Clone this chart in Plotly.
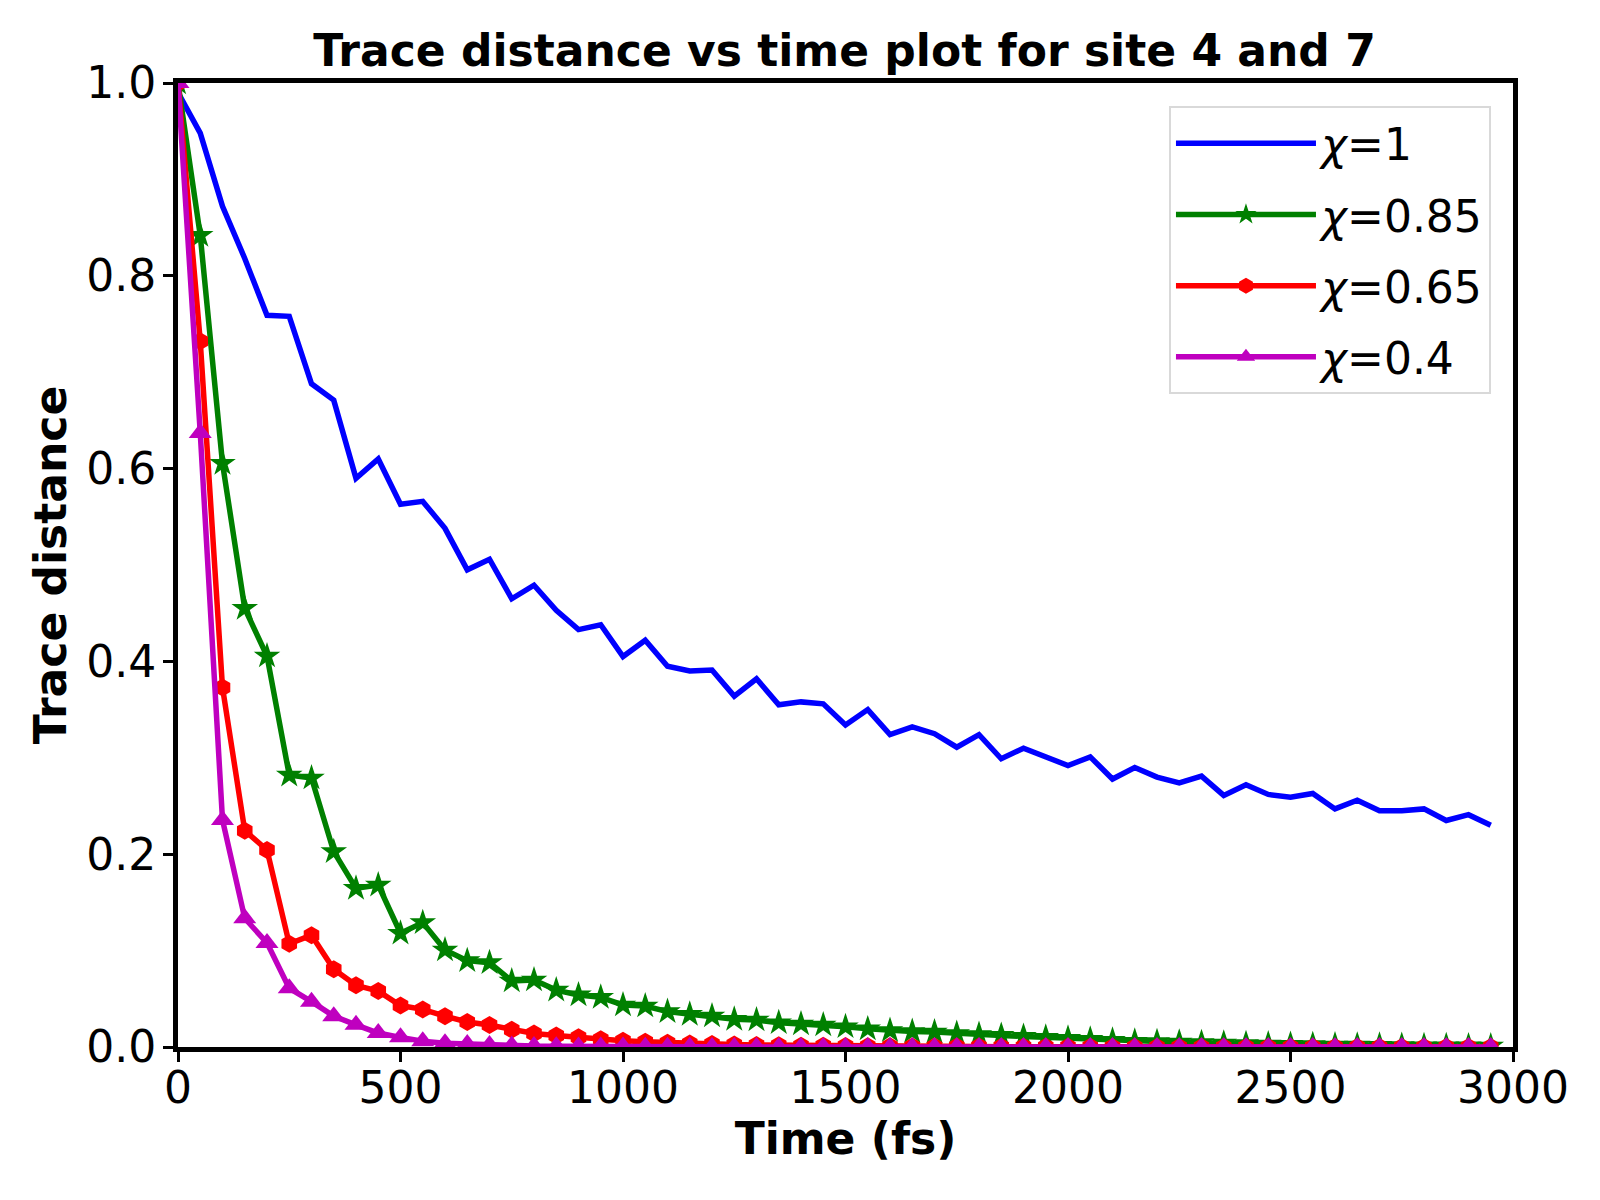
import plotly.graph_objects as go

time_fs = list(range(0, 3000, 50))

chi_1 = [0.990, 0.948, 0.872, 0.818, 0.759, 0.758, 0.688, 0.671, 0.590, 0.610,
         0.563, 0.566, 0.538, 0.495, 0.506, 0.465, 0.479, 0.453, 0.433, 0.438,
         0.405, 0.422, 0.395, 0.390, 0.391, 0.364, 0.382, 0.355, 0.358, 0.356,
         0.334, 0.350, 0.324, 0.332, 0.325, 0.311, 0.324, 0.299, 0.310, 0.301,
         0.292, 0.301, 0.278, 0.290, 0.280, 0.274, 0.281, 0.261, 0.272, 0.262,
         0.259, 0.263, 0.247, 0.256, 0.245, 0.245, 0.247, 0.235, 0.241, 0.230]

chi_085 = [1.0, 0.842, 0.6055, 0.455, 0.4056, 0.282, 0.279, 0.2026, 0.1646, 0.168,
           0.118, 0.129, 0.1006, 0.0896, 0.0875, 0.0685, 0.0695, 0.059, 0.054, 0.0515,
           0.0436, 0.0425, 0.0367, 0.0339, 0.0322, 0.0287, 0.028, 0.0252, 0.0239, 0.0228,
           0.021, 0.0188, 0.017, 0.016, 0.0155, 0.014, 0.013, 0.012, 0.011, 0.010,
           0.009, 0.008, 0.007, 0.006, 0.0055, 0.005, 0.0045, 0.004, 0.0035, 0.003,
           0.0027, 0.0024, 0.0021, 0.0019, 0.0017, 0.0015, 0.0013, 0.0012, 0.0011, 0.001]

chi_065 = [1.0, 0.732, 0.373, 0.2244, 0.2044, 0.107, 0.116, 0.0806, 0.064, 0.058,
           0.043, 0.039, 0.032, 0.026, 0.0228, 0.018, 0.014, 0.012, 0.010, 0.008,
           0.0065, 0.0055, 0.0045, 0.0037, 0.003, 0.0025, 0.002, 0.0017, 0.0014, 0.0012,
           0.001, 0.0008, 0.0007, 0.0006, 0.0005, 0.0004, 0.0004, 0.0003, 0.0003, 0.0002,
           0.0002, 0.0002, 0.0001, 0.0001, 0.0001, 0.0001, 0.0001, 0.0, 0.0, 0.0,
           0.0, 0.0, 0.0, 0.0, 0.0, 0.0, 0.0, 0.0, 0.0, 0.0]

chi_04 = [1.0, 0.637, 0.2355, 0.1335, 0.108, 0.061, 0.047, 0.032, 0.023, 0.0145,
          0.010, 0.006, 0.004, 0.003, 0.002, 0.0015, 0.001, 0.0008, 0.0006, 0.0005,
          0.0004, 0.0003, 0.0002, 0.0002, 0.0001, 0.0001, 0.0001, 0.0, 0.0, 0.0,
          0.0, 0.0, 0.0, 0.0, 0.0, 0.0, 0.0, 0.0, 0.0, 0.0,
          0.0, 0.0, 0.0, 0.0, 0.0, 0.0, 0.0, 0.0, 0.0, 0.0,
          0.0, 0.0, 0.0, 0.0, 0.0, 0.0, 0.0, 0.0, 0.0, 0.0]

series = [
    ("<i>χ</i>=1", chi_1, "#0000ff", None, 0),
    ("<i>χ</i>=0.85", chi_085, "#008000", "star", 20),
    ("<i>χ</i>=0.65", chi_065, "#ff0000", "hexagon", 18),
    ("<i>χ</i>=0.4", chi_04, "#bf00bf", "triangle-up", 20),
]

FONT = "DejaVu Sans"

fig = go.Figure()
for i, (name, vals, color, sym, msize) in enumerate(series):
    if sym is None:
        fig.add_trace(go.Scatter(x=time_fs, y=vals, mode="lines", name=name,
                                 line=dict(color=color, width=5.5),
                                 legendgroup=str(i)))
    else:
        fig.add_trace(go.Scatter(x=time_fs, y=vals, mode="lines+markers", name=name,
                                 line=dict(color=color, width=5.5),
                                 marker=dict(symbol=sym, size=msize, color=color,
                                             line=dict(width=0)),
                                 legendgroup=str(i)))

axis_common = dict(
    showline=True, linecolor="black", linewidth=5, mirror=True,
    ticks="outside", ticklen=10, tickwidth=2.5, tickcolor="black",
    showgrid=False, zeroline=False,
    tickfont=dict(family=FONT, size=44, color="black"),
)

fig.update_layout(
    width=1600, height=1200,
    margin=dict(l=170, r=95, t=75, b=161, autoexpand=False),
    paper_bgcolor="white", plot_bgcolor="white",
    title=dict(text="<b>Trace distance vs time plot for site 4 and 7</b>",
               x=0.5228, xanchor="center", y=1 - 43 / 1200, yanchor="middle",
               yref="container",
               font=dict(family=FONT, size=44, color="black")),
    xaxis=dict(range=[0, 3000], tickvals=[0, 500, 1000, 1500, 2000, 2500, 3000],
               ticklabelstandoff=-12,
               title=dict(text="<b>Time (fs)</b>", standoff=0,
                          font=dict(family=FONT, size=44, color="black")),
               **axis_common),
    yaxis=dict(range=[0, 1.0], tickvals=[0, 0.2, 0.4, 0.6, 0.8, 1.0], tickformat=".1f",
               ticklabelstandoff=-2,
               title=dict(text="<b>Trace distance</b>", standoff=7,
                          font=dict(family=FONT, size=44, color="black")),
               **axis_common),
    legend=dict(x=0.9835, xanchor="right", y=0.976, yanchor="top",
                bgcolor="white", bordercolor="#d9d9d9", borderwidth=2,
                font=dict(family=FONT, size=44, color="black"),
                traceorder="grouped", tracegroupgap=11, itemwidth=140),
    showlegend=True,
)

fig.write_html("out.html")
